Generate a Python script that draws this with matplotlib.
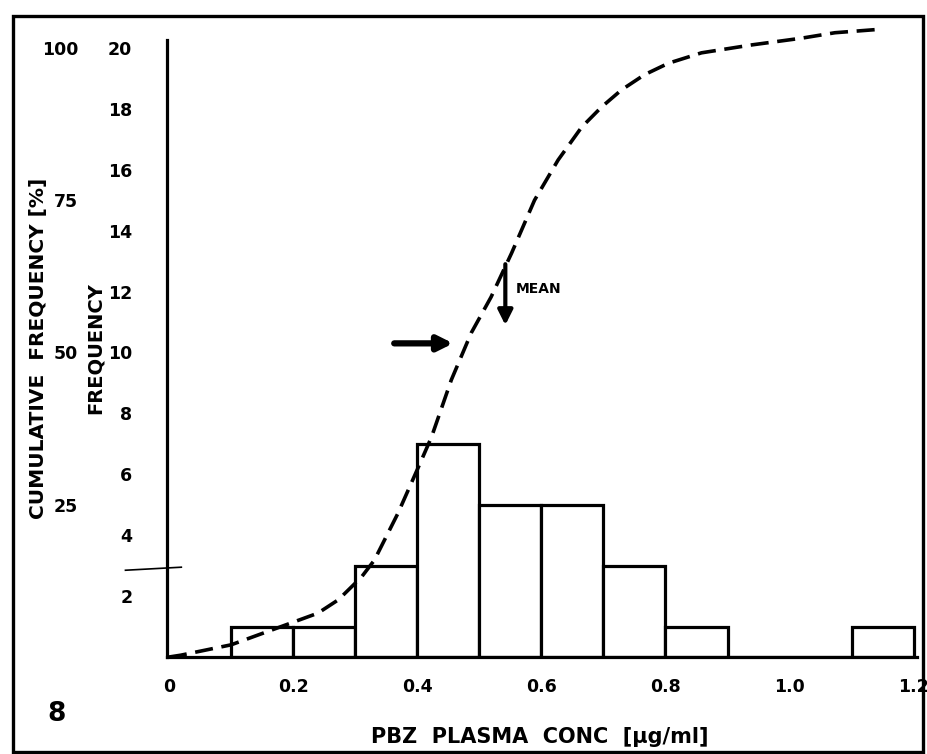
import matplotlib
matplotlib.use("Agg")
import matplotlib.pyplot as plt
import numpy as np
from matplotlib.patches import Rectangle

plt.rcParams['font.family'] = ['DejaVu Sans']

# histogram of PBZ plasma concentrations (bin edges in ug/ml, counts per bin)
bin_edges = [0.1, 0.2, 0.3, 0.4, 0.5, 0.6, 0.7, 0.8, 0.9, 1.0, 1.1, 1.2]
counts = [1, 1, 3, 7, 5, 5, 3, 1, 0, 0, 1]

# hand-drawn cumulative frequency curve (% of samples)
cum_x = [0.0, 0.019, 0.10, 0.197, 0.240, 0.273, 0.310, 0.331, 0.369, 0.402,
         0.423, 0.455, 0.487, 0.519, 0.552, 0.589, 0.627, 0.665, 0.697,
         0.729, 0.766, 0.805, 0.858, 0.939, 1.019, 1.073, 1.137]
cum_pct = [0.0, 0.3, 2.0, 5.6, 7.2, 9.4, 13.1, 15.9, 23.6, 31.2,
           36.1, 45.5, 53.2, 59.1, 66.3, 75.0, 81.6, 87.0, 90.3,
           93.1, 95.6, 97.5, 99.2, 100.5, 101.6, 102.5, 103.0]

freq_ticks = [2, 4, 6, 8, 10, 12, 14, 16, 18, 20]
pct_ticks = [25, 50, 75, 100]
x_ticks = [0, 0.2, 0.4, 0.6, 0.8, 1.0, 1.2]
x_ticklabels = ['0', '0.2', '0.4', '0.6', '0.8', '1.0', '1.2']

ytop = 20.26

fig = plt.figure(figsize=(9.28, 7.54), dpi=100)
ax = fig.add_axes([0.180, 0.1286, 0.808, 0.8183])

lefts = bin_edges[:-1]
widths = np.diff(bin_edges)
ax.bar(lefts, counts, width=widths, align='edge', facecolor='white',
       edgecolor='black', linewidth=2.3, zorder=2)

ax.set_xlim(-0.003, 1.205)
ax.set_ylim(0, ytop)
ax.set_xticks(x_ticks)
ax.set_xticklabels(x_ticklabels)
ax.set_yticks(freq_ticks)
ax.tick_params(axis='both', length=0, labelsize=12.5)
ax.tick_params(axis='x', pad=15)
ax.tick_params(axis='y', pad=25)
for t in ax.get_yticklabels() + ax.get_xticklabels():
    t.set_fontweight('bold')
for s in ['top', 'right']:
    ax.spines[s].set_visible(False)
for s in ['left', 'bottom']:
    ax.spines[s].set_linewidth(2.3)

ax.set_ylabel('FREQUENCY', fontsize=14, fontweight='bold')
ax.yaxis.set_label_coords(-0.083, 0.50)
ax.set_xlabel('PBZ  PLASMA  CONC  [\u00b5g/ml]', fontsize=15, fontweight='bold')
ax.xaxis.set_label_coords(0.497, -0.113)

# cumulative percentage scale on the outer left
ax2 = ax.twinx()
ax2.set_ylim(0, ytop * 5)
ax2.set_yticks(pct_ticks)
ax2.tick_params(axis='y', left=False, right=False, labelleft=True,
                labelright=False, length=0, pad=64, labelsize=12.5)
for t in ax2.get_yticklabels():
    t.set_fontweight('bold')
for s in ax2.spines.values():
    s.set_visible(False)
ax2.plot(cum_x, cum_pct, color='black', linewidth=2.6, dashes=(5, 2.4),
         clip_on=False, zorder=3)
ax2.text(-0.172, 0.50, 'CUMULATIVE  FREQUENCY [%]', transform=ax.transAxes,
         rotation=90, ha='center', va='center', fontsize=14.5,
         fontweight='bold')

# arrow to the 50 % point and arrow marking the mean
centers = np.array(lefts) + widths / 2
mean_conc = np.sum(centers * np.array(counts)) / np.sum(counts)
ax2.annotate('', xy=(0.458, 51.5), xytext=(0.363, 51.5),
             arrowprops=dict(arrowstyle='-|>', color='black', lw=4.5,
                             mutation_scale=22, shrinkA=0, shrinkB=0))
ax2.annotate('', xy=(mean_conc - 0.008, 54.5), xytext=(mean_conc - 0.008, 64.5),
             arrowprops=dict(arrowstyle='-|>', color='black', lw=3,
                             mutation_scale=22, shrinkA=0, shrinkB=0))
ax2.text(mean_conc + 0.008, 60.5, 'MEAN', fontsize=10, fontweight='bold',
         ha='left', va='center')

# small stray tick across the frequency axis
ax.plot([-0.07, 0.02], [2.85, 2.95], color='black', linewidth=1.2,
        clip_on=False)

fig.text(57 / 928, 1 - 714 / 754, '8', fontsize=19, fontweight='bold',
         ha='center', va='center')

fig.patches.append(Rectangle((13 / 928, 2 / 754), 910 / 928, 736 / 754,
                             transform=fig.transFigure, fill=False,
                             edgecolor='black', linewidth=2.4))

fig.savefig('out.png', dpi=100)
